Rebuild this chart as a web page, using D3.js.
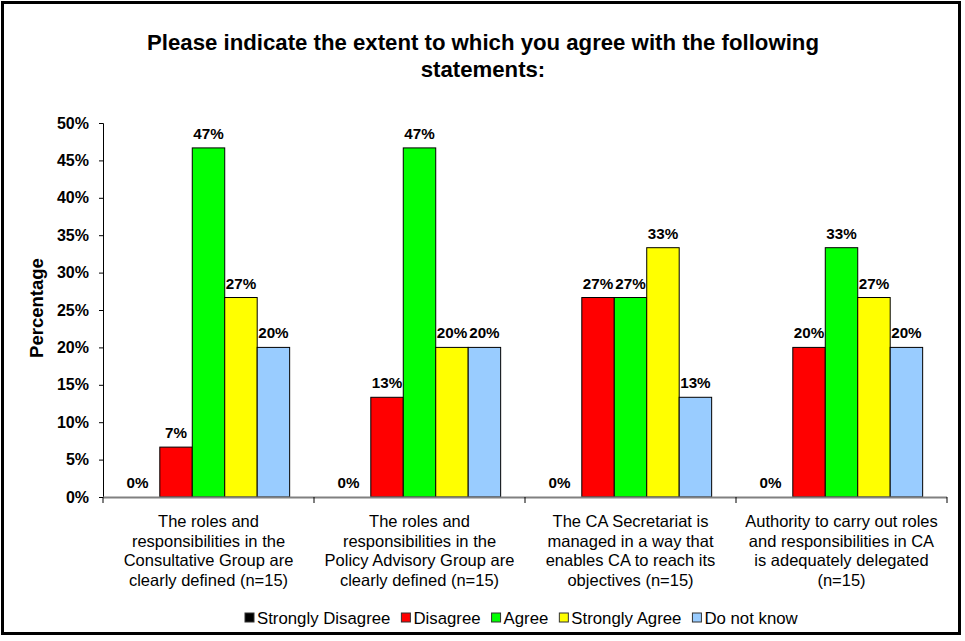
<!DOCTYPE html>
<html><head><meta charset="utf-8">
<script src="https://cdn.jsdelivr.net/npm/d3@7"></script>
<style>body{margin:0;background:#fff}svg{display:block}text{font-family:"Liberation Sans",Arial,sans-serif}</style>
</head><body><svg id="c" width="965" height="641"></svg>
<script>
const categories = [
  ["The roles and","responsibilities in the","Consultative Group are","clearly defined (n=15)"],
  ["The roles and","responsibilities in the","Policy Advisory Group are","clearly defined (n=15)"],
  ["The CA Secretariat is","managed in a way that","enables CA to reach its","objectives (n=15)"],
  ["Authority to carry out roles","and responsibilities in CA","is adequately delegated","(n=15)"]
];
const seriesNames = ["Strongly Disagree","Disagree","Agree","Strongly Agree","Do not know"];
const seriesColors = ["#000000","#FF0000","#00FF00","#FFFF00","#99CCFF"];
const stronglyDisagree = [0,0,0,0];
const disagree = [6.67,13.33,26.67,20];
const agree = [46.67,46.67,26.67,33.33];
const stronglyAgree = [26.67,20,33.33,26.67];
const doNotKnow = [20,20,13.33,20];
const yTicks = [0,5,10,15,20,25,30,35,40,45,50];
const titleLines = ["Please indicate the extent to which you agree with the following","statements:"];

const series = [stronglyDisagree,disagree,agree,stronglyAgree,doNotKnow];
const svg = d3.select("#c");
svg.append("rect").attr("x",2.5).attr("y",2.5).attr("width",957).attr("height",631)
  .attr("fill","#fff").attr("stroke","#000").attr("stroke-width",3);

const L=103, R=947, T=123, B=497;
const y = d3.scaleLinear().domain([0,50]).range([B,T]);
const x0 = d3.scaleBand().domain(d3.range(categories.length)).range([L,R]).paddingInner(0).paddingOuter(0);
const x1 = d3.scaleBand().domain(d3.range(series.length)).range([0,x0.bandwidth()]).paddingOuter(0.75).paddingInner(0);

// title
svg.append("g").selectAll("text").data(titleLines).join("text")
  .attr("x",483).attr("y",(d,i)=>50+i*27).attr("text-anchor","middle")
  .attr("font-size",22.2).attr("font-weight","bold").text(d=>d);

// y axis
const yAxis = svg.append("g").attr("transform",`translate(${L},0)`)
  .call(d3.axisLeft(y).tickValues(yTicks).tickFormat(d=>d+"%").tickSize(4).tickPadding(10));
yAxis.select(".domain").attr("stroke","#000");
yAxis.selectAll("text").attr("font-size",16).attr("font-weight","bold").attr("fill","#000")
  .style("font-family",'"Liberation Sans",Arial,sans-serif');

svg.append("text").attr("transform","translate(43,308) rotate(-90)").attr("text-anchor","middle")
  .attr("font-size",18.5).attr("font-weight","bold").text("Percentage");

// bars
const groups = svg.append("g").selectAll("g").data(categories).join("g")
  .attr("transform",(d,i)=>`translate(${x0(i)},0)`);
groups.selectAll("rect").data((d,i)=>series.map((s,j)=>({j,v:s[i]}))).join("rect")
  .attr("x",d=>x1(d.j)).attr("width",x1.bandwidth())
  .attr("y",d=>y(d.v)).attr("height",d=>B-y(d.v))
  .attr("fill",d=>seriesColors[d.j]).attr("stroke","#000").attr("stroke-width",1);
groups.selectAll("text.v").data((d,i)=>series.map((s,j)=>({j,v:s[i]}))).join("text")
  .attr("class","v").attr("x",d=>x1(d.j)+x1.bandwidth()/2 - (d.v===0?6:0)).attr("y",d=>y(d.v)-9)
  .attr("text-anchor","middle").attr("font-size",15.2).attr("font-weight","bold")
  .text(d=>Math.round(d.v)+"%");

// x axis
svg.append("line").attr("x1",L).attr("x2",R).attr("y1",B+0.5).attr("y2",B+0.5)
  .attr("stroke","#808080").attr("stroke-width",2);
svg.append("g").selectAll("line").data(d3.range(categories.length+1)).join("line")
  .attr("x1",i=>L+i*x0.step()).attr("x2",i=>L+i*x0.step()).attr("y1",B).attr("y2",B+6)
  .attr("stroke","#000").attr("stroke-width",1);

// category labels
groups.each(function(lines,i){
  const t = d3.select(this).append("text").attr("text-anchor","middle")
    .attr("font-size",16.5).attr("fill","#000");
  lines.forEach((ln,k)=>t.append("tspan").attr("x",x0.bandwidth()/2).attr("y",527+k*19.6).text(ln));
});

// legend
const leg = svg.append("g").attr("transform","translate(245,624)");
let lx = 0;
seriesNames.forEach((n,i)=>{
  const g = leg.append("g").attr("transform",`translate(${lx},0)`);
  g.append("rect").attr("x",0).attr("y",-11).attr("width",9).attr("height",9)
    .attr("fill",seriesColors[i]).attr("stroke","#333").attr("stroke-width",1);
  const t = g.append("text").attr("x",12).attr("y",0).attr("font-size",16.8).text(n);
  lx += 12 + t.node().getComputedTextLength() + 11;
});
</script></body></html>
